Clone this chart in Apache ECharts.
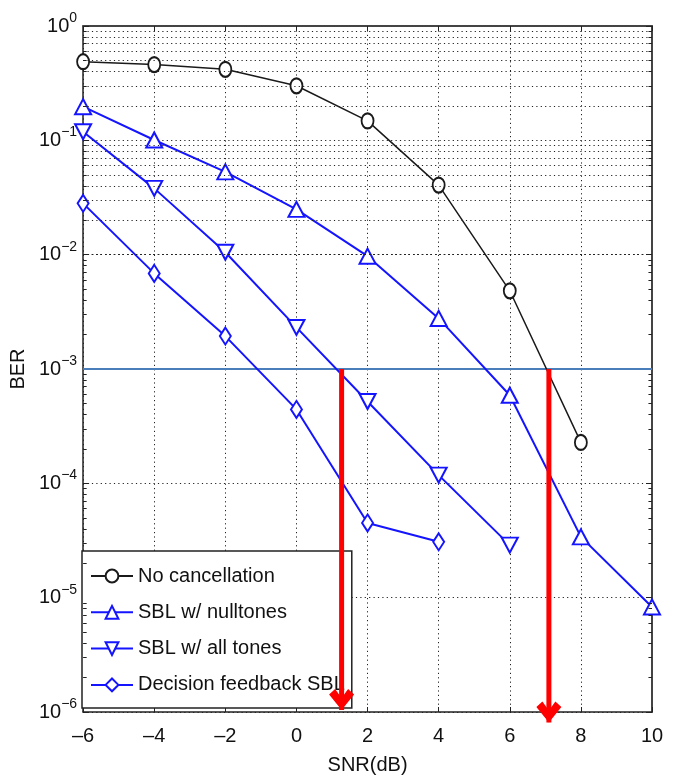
<!DOCTYPE html>
<html>
<head>
<meta charset="utf-8">
<script src="https://cdn.jsdelivr.net/npm/echarts@6/dist/echarts.min.js"></script>
<style>
html, body { margin: 0; padding: 0; background: #fff; }
#main { width: 678px; height: 780px; }
</style>
</head>
<body>
<div id="main"></div>
<script>
// SNR points (dB) and BER per curve
var snr = [-6, -4, -2, 0, 2, 4, 6, 8, 10];
var noCancel = [0.487, 0.46, 0.418, 0.30, 0.148, 0.0406, 0.00483, 2.28e-4];
var sblNull = [0.197, 0.1007, 0.053, 0.0249, 0.0097, 0.00277, 5.9e-4, 3.4e-5, 8.3e-6];
var sblAll = [0.119, 0.038, 0.0105, 0.00231, 5.2e-4, 1.18e-4, 2.88e-5];
var dfSbl = [0.0281, 0.00686, 0.00194, 4.43e-4, 4.5e-5, 3.08e-5];
var names = ['No cancellation', 'SBL w/ nulltones', 'SBL w/ all tones', 'Decision feedback SBL'];

// annotations: target BER line and the two red arrows (tip values)
var berTarget = 1e-3;
var arrowSnr = [1.27, 7.1];
var arrowEnd = [1.04e-6, 8.1e-7];

var FONT = "'Liberation Sans', Arial, sans-serif";
var BLUE = '#1414ff';

function pairs(vals) {
    return vals.map(function (v, i) { return [snr[i], v]; });
}

// minor grid lines at 2..9 x 10^k, plus short inward ticks on both sides
var minorLines = [];
var minorTicks = [];
for (var k = -6; k < 0; k++) {
    for (var m = 2; m <= 9; m++) {
        var v = m * Math.pow(10, k);
        minorLines.push({ yAxis: v });
        minorTicks.push([{ coord: [-6, v] }, { coord: [-5.9, v] }]);
        minorTicks.push([{ coord: [9.9, v] }, { coord: [10, v] }]);
    }
}

var dotted = { color: '#222', width: 1, type: [1.2, 3.2] };
// chevron head, tip at the middle of the box so the shaft ends at the tip
var chevron = 'path://M12.5,0 L12.6,0 L12.6,0.1 Z M12.5,22 L25,37.5 L19,43 L12.5,34 L6,43 L0,37.5 Z M12.5,44 L12.6,44 L12.6,43.9 Z';

var arrowSeries = arrowSnr.map(function (x, i) {
    return {
        name: 'arrow' + i, type: 'line', z: 10, clip: false, silent: true,
        data: [[x, berTarget], [x, arrowEnd[i]]],
        color: '#ff0000',
        lineStyle: { width: 5 },
        showSymbol: true,
        symbol: function (val, params) { return params.dataIndex === 1 ? chevron : 'none'; },
        symbolSize: [25, 44],
        symbolRotate: 180,
        itemStyle: { color: '#ff0000', borderWidth: 0 }
    };
});

var chart = echarts.init(document.getElementById('main'));

chart.setOption({
    animation: false,
    backgroundColor: '#fff',
    grid: { left: 78, right: 26, top: 26, bottom: 68 },
    xAxis: [{
        type: 'value', min: -6, max: 10, interval: 2,
        name: 'SNR(dB)', nameLocation: 'middle', nameGap: 43,
        nameTextStyle: { fontFamily: FONT, fontSize: 20, color: '#111' },
        axisLine: { show: true, onZero: false, lineStyle: { color: '#222', width: 1.5 } },
        axisTick: { inside: true, length: 5, lineStyle: { color: '#222' } },
        axisLabel: {
            margin: 14, fontFamily: FONT, fontSize: 20, color: '#111',
            formatter: function (v) { return String(v).replace('-', '\u2013'); }
        },
        splitLine: { show: true, lineStyle: dotted }
    }, {
        type: 'value', min: -6, max: 10, interval: 2, position: 'top',
        axisLine: { show: true, onZero: false, lineStyle: { color: '#444', width: 2 } },
        axisTick: { inside: true, length: 5, lineStyle: { color: '#222' } },
        axisLabel: { show: false },
        splitLine: { show: false }
    }],
    yAxis: [{
        type: 'log', logBase: 10, min: 1e-6, max: 1,
        name: 'BER', nameLocation: 'middle', nameGap: 41, nameRotate: 90,
        nameTextStyle: { fontFamily: FONT, fontSize: 20, color: '#111' },
        axisLine: { show: true, onZero: false, lineStyle: { color: '#222', width: 1.5 } },
        axisTick: { inside: true, length: 6, lineStyle: { color: '#222' } },
        axisLabel: {
            margin: 6,
            formatter: function (v) {
                var e = Math.round(Math.log10(v));
                return '{b|10}{s|' + (e < 0 ? '\u2212' + (-e) : e) + '}';
            },
            rich: {
                b: { fontFamily: FONT, fontSize: 20, color: '#111' },
                s: { fontFamily: FONT, fontSize: 14, color: '#111', padding: [0, 0, 16, 0] }
            }
        },
        splitLine: { show: true, lineStyle: dotted }
    }, {
        type: 'log', logBase: 10, min: 1e-6, max: 1, position: 'right',
        axisLine: { show: true, onZero: false, lineStyle: { color: '#444', width: 2 } },
        axisTick: { inside: true, length: 6, lineStyle: { color: '#222' } },
        axisLabel: { show: false },
        splitLine: { show: false }
    }],
    legend: {
        data: names,
        orient: 'vertical',
        left: 82, top: 551,
        padding: [14, 7, 12, 8],
        itemGap: 14.3,
        itemWidth: 42, itemHeight: 16,
        backgroundColor: '#fff',
        borderColor: '#222', borderWidth: 1.5, borderRadius: 0,
        textStyle: { fontFamily: FONT, fontSize: 20, color: '#111', lineHeight: 22 }
    },
    series: [{
        name: 'grid',
        type: 'line', data: [], silent: true,
        markLine: {
            silent: true, symbol: ['none', 'none'], label: { show: false },
            lineStyle: dotted, data: minorLines, animation: false
        }
    }, {
        name: 'minorTicks',
        type: 'line', data: [], silent: true,
        markLine: {
            silent: true, symbol: ['none', 'none'], label: { show: false },
            lineStyle: { color: '#222', width: 1, type: 'solid' }, data: minorTicks, animation: false
        }
    }, {
        name: 'target', type: 'line', silent: true,
        data: [[snr[0], berTarget], [snr[snr.length - 1], berTarget]],
        color: '#4a7ebb', symbol: 'none',
        lineStyle: { color: '#4a7ebb', width: 2 }
    }, {
        name: names[0], type: 'line', data: pairs(noCancel),
        color: '#1a1a1a', lineStyle: { width: 1.5 },
        symbol: 'emptyCircle', symbolSize: [12, 15], itemStyle: { borderWidth: 1.5 }
    }, {
        name: names[1], type: 'line', data: pairs(sblNull),
        color: BLUE, lineStyle: { width: 2 },
        symbol: 'emptyTriangle', symbolSize: [16, 15], itemStyle: { borderWidth: 2 }
    }, {
        name: names[2], type: 'line', data: pairs(sblAll),
        color: BLUE, lineStyle: { width: 2 },
        symbol: 'emptyTriangle', symbolRotate: 180, symbolSize: [16, 15], itemStyle: { borderWidth: 2 }
    }, {
        name: names[3], type: 'line', data: pairs(dfSbl),
        color: BLUE, lineStyle: { width: 2 },
        symbol: 'emptyDiamond', symbolSize: [11, 17], itemStyle: { borderWidth: 2 }
    }].concat(arrowSeries)
});
</script>
</body>
</html>
